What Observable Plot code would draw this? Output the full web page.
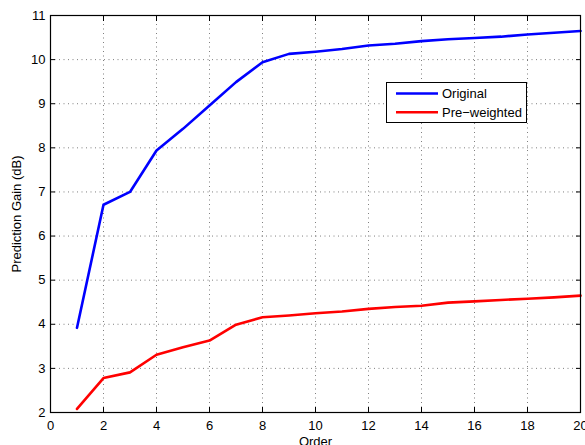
<!DOCTYPE html>
<html>
<head>
<meta charset="utf-8">
<script src="https://cdn.jsdelivr.net/npm/d3@7"></script>
<script src="https://cdn.jsdelivr.net/npm/@observablehq/plot@0.6"></script>
<style>
  body { margin: 0; background: #fff; }
  #wrap { position: relative; width: 585px; height: 445px; font-family: "Liberation Sans", Arial, sans-serif; }
  #legend { position: absolute; left: 386px; top: 82px; width: 141px; height: 41px; border: 1px solid #000; background: #fff; box-sizing: border-box; }
</style>
</head>
<body>
<div id="wrap"></div>
<script>
const order = [1,2,3,4,5,6,7,8,9,10,11,12,13,14,15,16,17,18,19,20];
const original = [3.92,6.71,7.00,7.94,8.43,8.96,9.49,9.94,10.13,10.18,10.24,10.32,10.36,10.42,10.46,10.49,10.52,10.57,10.61,10.65];
const preWeighted = [2.08,2.78,2.91,3.31,3.48,3.63,3.99,4.16,4.20,4.25,4.29,4.35,4.39,4.42,4.49,4.52,4.55,4.58,4.61,4.65];
const seriesNames = ["Original", "Pre\u2212weighted"];
const seriesColors = ["#0000ff", "#ff0000"];
const xTicks = [0,2,4,6,8,10,12,14,16,18,20];
const yTicks = [2,3,4,5,6,7,8,9,10,11];

const data = [];
order.forEach((o, i) => {
  data.push({order: o, gain: original[i], series: seriesNames[0]});
});
order.forEach((o, i) => {
  data.push({order: o, gain: preWeighted[i], series: seriesNames[1]});
});

const blank = () => "";
const chart = Plot.plot({
  width: 585,
  height: 445,
  marginLeft: 50,
  marginRight: 5,
  marginTop: 15,
  marginBottom: 33,
  style: {fontFamily: "Liberation Sans, Arial, sans-serif", fontSize: "13px", background: "#fff", color: "#000"},
  x: {domain: [0, 20], ticks: xTicks},
  y: {domain: [2, 11], ticks: yTicks},
  color: {domain: seriesNames, range: seriesColors},
  marks: [
    Plot.gridX(xTicks, {stroke: "#000", strokeOpacity: 0.5, strokeDasharray: "1,3.5"}),
    Plot.gridY(yTicks, {stroke: "#000", strokeOpacity: 0.5, strokeDasharray: "1,3.5"}),
    Plot.line(data, {x: "order", y: "gain", z: "series", stroke: "series", strokeWidth: 2.6}),
    Plot.axisX(xTicks, {anchor: "bottom", tickSize: -5, tickFormat: blank, label: null}),
    Plot.axisX(xTicks, {anchor: "top", tickSize: -5, tickFormat: blank, label: null}),
    Plot.axisY(yTicks, {anchor: "left", tickSize: -5, tickFormat: blank, label: null}),
    Plot.axisY(yTicks, {anchor: "right", tickSize: -5, tickFormat: blank, label: null}),
    Plot.axisX(xTicks, {anchor: "bottom", tickSize: 0, tickPadding: 8, fontSize: 13, label: "Order", labelAnchor: "center", labelOffset: 33, labelArrow: "none"}),
    Plot.axisY(yTicks, {anchor: "left", tickSize: 0, tickPadding: 5, fontSize: 13, label: "Prediction Gain (dB)", labelAnchor: "center", labelOffset: 39, labelArrow: "none"}),
    Plot.frame({stroke: "#000", strokeWidth: 1.2})
  ]
});
document.getElementById("wrap").appendChild(chart);

// Legend overlay
const legend = document.createElement("div");
legend.id = "legend";
let html = '<svg width="139" height="39" style="display:block">';
seriesNames.forEach((name, i) => {
  const y = 10.5 + i * 18.7;
  html += `<line x1="9" x2="51" y1="${y}" y2="${y}" stroke="${seriesColors[i]}" stroke-width="2.6"/>`;
  html += `<text x="55" y="${y + 4.5}" font-size="13" font-family="Liberation Sans, Arial, sans-serif" fill="#000">${name}</text>`;
});
html += '</svg>';
legend.innerHTML = html;
document.getElementById("wrap").appendChild(legend);
</script>
</body>
</html>
